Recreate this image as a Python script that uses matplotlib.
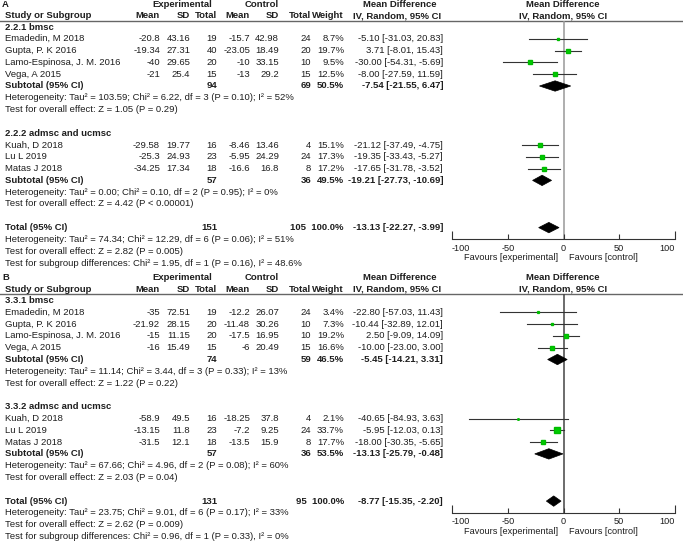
import matplotlib
matplotlib.use('Agg')
import matplotlib.pyplot as plt
from matplotlib.patches import Polygon

plt.rcParams['font.family'] = ['Liberation Sans', 'DejaVu Sans']

# ---- panel A data ----
a_groups = ['2.2.1 bmsc', '2.2.2 admsc and ucmsc']
a_names = ['Emadedin, M 2018', 'Gupta, P. K 2016', 'Lamo-Espinosa, J. M. 2016', 'Vega, A 2015',
           'Kuah, D 2018', 'Lu L 2019', 'Matas J 2018']
a_group_of = [0, 0, 0, 0, 1, 1, 1]
a_exp_mean = [-20.8, -19.34, -40, -21, -29.58, -25.3, -34.25]
a_exp_sd = [43.16, 27.31, 29.65, 25.4, 19.77, 24.93, 17.34]
a_exp_n = [19, 40, 20, 15, 16, 23, 18]
a_ctl_mean = [-15.7, -23.05, -10, -13, -8.46, -5.95, -16.6]
a_ctl_sd = [42.98, 18.49, 33.15, 29.2, 13.46, 24.29, 16.8]
a_ctl_n = [24, 20, 10, 15, 4, 24, 8]
a_weight = [8.7, 19.7, 9.5, 12.5, 15.1, 17.3, 17.2]
a_md = [-5.10, 3.71, -30.00, -8.00, -21.12, -19.35, -17.65]
a_lo = [-31.03, -8.01, -54.31, -27.59, -37.49, -33.43, -31.78]
a_hi = [20.83, 15.43, -5.69, 11.59, -4.75, -5.27, -3.52]
a_sub_exp_n = [94, 57]
a_sub_ctl_n = [69, 36]
a_sub_weight = [50.5, 49.5]
a_sub_md = [-7.54, -19.21]
a_sub_lo = [-21.55, -27.73]
a_sub_hi = [6.47, -10.69]
a_sub_het = ['Heterogeneity: Tau\u00b2 = 103.59; Chi\u00b2 = 6.22, df = 3 (P = 0.10); I\u00b2 = 52%',
             'Heterogeneity: Tau\u00b2 = 0.00; Chi\u00b2 = 0.10, df = 2 (P = 0.95); I\u00b2 = 0%']
a_sub_test = ['Test for overall effect: Z = 1.05 (P = 0.29)',
              'Test for overall effect: Z = 4.42 (P < 0.00001)']
a_total = [151, 105, 100.0, -13.13, -22.27, -3.99]
a_total_notes = ['Heterogeneity: Tau\u00b2 = 74.34; Chi\u00b2 = 12.29, df = 6 (P = 0.06); I\u00b2 = 51%',
                 'Test for overall effect: Z = 2.82 (P = 0.005)',
                 'Test for subgroup differences: Chi\u00b2 = 1.95, df = 1 (P = 0.16), I\u00b2 = 48.6%']

# ---- panel B data ----
b_groups = ['3.3.1 bmsc', '3.3.2 admsc and ucmsc']
b_names = a_names
b_group_of = a_group_of
b_exp_mean = [-35, -21.92, -15, -16, -58.9, -13.15, -31.5]
b_exp_sd = [72.51, 28.15, 11.15, 15.49, 49.5, 11.8, 12.1]
b_exp_n = [19, 20, 20, 15, 16, 23, 18]
b_ctl_mean = [-12.2, -11.48, -17.5, -6, -18.25, -7.2, -13.5]
b_ctl_sd = [26.07, 30.26, 16.95, 20.49, 37.8, 9.25, 15.9]
b_ctl_n = [24, 10, 10, 15, 4, 24, 8]
b_weight = [3.4, 7.3, 19.2, 16.6, 2.1, 33.7, 17.7]
b_md = [-22.80, -10.44, 2.50, -10.00, -40.65, -5.95, -18.00]
b_lo = [-57.03, -32.89, -9.09, -23.00, -84.93, -12.03, -30.35]
b_hi = [11.43, 12.01, 14.09, 3.00, 3.63, 0.13, -5.65]
b_sub_exp_n = [74, 57]
b_sub_ctl_n = [59, 36]
b_sub_weight = [46.5, 53.5]
b_sub_md = [-5.45, -13.13]
b_sub_lo = [-14.21, -25.79]
b_sub_hi = [3.31, -0.48]
b_sub_het = ['Heterogeneity: Tau\u00b2 = 11.14; Chi\u00b2 = 3.44, df = 3 (P = 0.33); I\u00b2 = 13%',
             'Heterogeneity: Tau\u00b2 = 67.66; Chi\u00b2 = 4.96, df = 2 (P = 0.08); I\u00b2 = 60%']
b_sub_test = ['Test for overall effect: Z = 1.22 (P = 0.22)',
              'Test for overall effect: Z = 2.03 (P = 0.04)']
b_total = [131, 95, 100.0, -8.77, -15.35, -2.20]
b_total_notes = ['Heterogeneity: Tau\u00b2 = 23.75; Chi\u00b2 = 9.01, df = 6 (P = 0.17); I\u00b2 = 33%',
                 'Test for overall effect: Z = 2.62 (P = 0.009)',
                 'Test for subgroup differences: Chi\u00b2 = 0.96, df = 1 (P = 0.33), I\u00b2 = 0%']

ticks = [-100, -50, 0, 50, 100]

W, H = 683, 543
FS = 6.8
AX_FS = 6.6
TXT = '#1e1e1e'
ROW = 11.8

fig = plt.figure(figsize=(W / 100, H / 100), dpi=100)
bg = fig.add_axes([0, 0, 1, 1])
bg.set_xlim(0, W)
bg.set_ylim(H, 0)
bg.axis('off')

# column right edges (pixels)
cols = [160, 190, 217, 250, 279, 311, 344]
ci_right = 443
ax_l, ax_r = 452, 675
LX = 5


def t(x, y, s, ha='left', bold=False, fs=FS, **kw):
    bg.text(x, y, s, ha=ha, va='center', fontsize=fs, color=TXT,
            fontweight='bold' if bold else 'normal', **kw)


def ci_text(md, lo, hi):
    return f"{md:.2f} [{lo:.2f}, {hi:.2f}]"


def diamond(ax, md, lo, hi, r):
    h = 0.44
    ax.add_patch(Polygon([(lo, r), (md, r - h), (hi, r), (md, r + h)],
                         closed=True, facecolor='black', edgecolor='black', lw=0.5))


def draw_panel(top, letter, groups, names, group_of, em, es, en, cm, cs, cn, wt, md, lo, hi,
               sen, scn, sw, smd, slo, shi, shet, stest, total, tnotes, zero_col):
    ry = lambda i: top + 27 + ROW * i

    # header
    t(2, top + 4.5, letter, bold=True)
    t(182, top + 4.5, 'Experimental', ha='center', bold=True)
    t(262, top + 4.5, 'Control', ha='center', bold=True)
    t(400, top + 4.5, 'Mean Difference', ha='center', bold=True)
    t(563, top + 4.5, 'Mean Difference', ha='center', bold=True)
    t(LX, top + 15.5, 'Study or Subgroup', bold=True)
    for x, s in zip(cols, ['Mean', 'SD', 'Total', 'Mean', 'SD', 'Total', 'Weight']):
        t(x, top + 15.5, s, ha='right', bold=True)
    t(ci_right - 2, top + 15.5, 'IV, Random, 95% CI', ha='right', bold=True)
    t(563, top + 15.5, 'IV, Random, 95% CI', ha='center', bold=True)
    bg.plot([0, W], [top + 20.5, top + 20.5], color='#666666', lw=1)

    # forest axes in data units
    y_top = top + 20.5
    y_bot = top + 239.5
    fa = fig.add_axes([ax_l / W, 1 - y_bot / H, (ax_r - ax_l) / W, (y_bot - y_top) / H])
    fa.patch.set_alpha(0)
    fa.set_xlim(-100, 100)
    fa.set_ylim((y_bot - top - 27) / ROW, (y_top - top - 27) / ROW)
    for s in ['left', 'right', 'top']:
        fa.spines[s].set_visible(False)
    fa.spines['bottom'].set_color('#333333')
    fa.set_yticks([])
    fa.set_xticks(ticks)
    labs = fa.set_xticklabels([str(v) for v in ticks])
    labs[0].set_ha('left')
    labs[-1].set_ha('right')
    fa.tick_params(axis='x', direction='in', length=3.5, width=0.8, color='#333333',
                   labelsize=AX_FS, labelcolor=TXT, pad=3)
    mt = fa.xaxis.get_major_ticks()
    for tk in (mt[0], mt[-1]):
        tk.tick1line.set_markersize(6)
    fa.axvline(0, color=zero_col, lw=1.1, zorder=0)

    row = 0
    for g in range(2):
        t(LX, ry(row), groups[g], bold=True)
        row += 1
        for k in [i for i, gg in enumerate(group_of) if gg == g]:
            y = ry(row)
            t(LX, y, names[k])
            vals = [f"{em[k]:g}", f"{es[k]:g}", f"{en[k]}", f"{cm[k]:g}", f"{cs[k]:g}",
                    f"{cn[k]}", f"{wt[k]:.1f}%"]
            for x, s in zip(cols, vals):
                t(x, y, s, ha='right')
            t(ci_right, y, ci_text(md[k], lo[k], hi[k]), ha='right')
            fa.plot([lo[k], hi[k]], [row, row], color='#333333', lw=0.8, zorder=2)
            fa.plot(md[k], row, marker='s', color='#00cc00', mec='#00bb00',
                    ms=0.72 * wt[k] ** 0.5, zorder=3)
            row += 1
        y = ry(row)
        t(LX, y, 'Subtotal (95% CI)', bold=True)
        t(cols[2], y, str(sen[g]), ha='right', bold=True)
        t(cols[5], y, str(scn[g]), ha='right', bold=True)
        t(cols[6], y, f"{sw[g]:.1f}%", ha='right', bold=True)
        t(ci_right, y, ci_text(smd[g], slo[g], shi[g]), ha='right', bold=True)
        diamond(fa, smd[g], slo[g], shi[g], row)
        row += 1
        t(LX, ry(row), shet[g])
        row += 1
        t(LX, ry(row), stest[g])
        row += 2

    y = ry(row)
    t(LX, y, 'Total (95% CI)', bold=True)
    t(cols[2], y, str(total[0]), ha='right', bold=True)
    t(cols[6], y, f"{total[1]}  {total[2]:.1f}%", ha='right', bold=True)
    t(ci_right, y, ci_text(total[3], total[4], total[5]), ha='right', bold=True)
    diamond(fa, total[3], total[4], total[5], row)
    for n in tnotes:
        row += 1
        t(LX, ry(row), n)

    t(558, top + 258, 'Favours [experimental]', ha='right', fs=AX_FS)
    t(569, top + 258, 'Favours [control]', ha='left', fs=AX_FS)


draw_panel(0, 'A', a_groups, a_names, a_group_of, a_exp_mean, a_exp_sd, a_exp_n,
           a_ctl_mean, a_ctl_sd, a_ctl_n, a_weight, a_md, a_lo, a_hi,
           a_sub_exp_n, a_sub_ctl_n, a_sub_weight, a_sub_md, a_sub_lo, a_sub_hi,
           a_sub_het, a_sub_test, a_total, a_total_notes, '#999999')
draw_panel(273.5, 'B', b_groups, b_names, b_group_of, b_exp_mean, b_exp_sd, b_exp_n,
           b_ctl_mean, b_ctl_sd, b_ctl_n, b_weight, b_md, b_lo, b_hi,
           b_sub_exp_n, b_sub_ctl_n, b_sub_weight, b_sub_md, b_sub_lo, b_sub_hi,
           b_sub_het, b_sub_test, b_total, b_total_notes, '#444444')

fig.savefig('out.png', dpi=100)
